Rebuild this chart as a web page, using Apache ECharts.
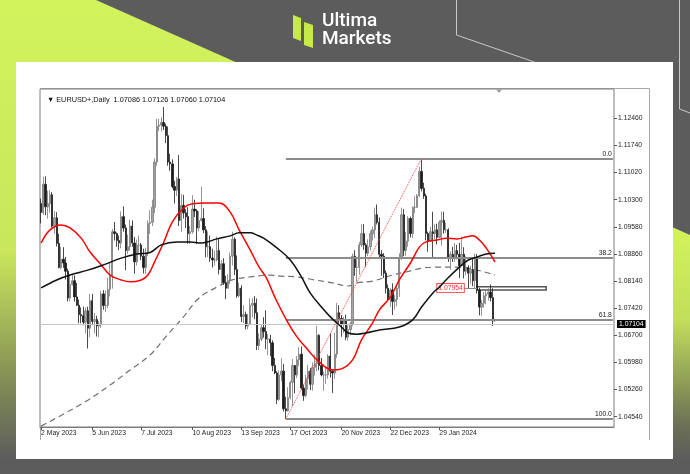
<!DOCTYPE html>
<html><head><meta charset="utf-8">
<script src="https://cdn.jsdelivr.net/npm/echarts@6/dist/echarts.min.js"></script>
<style>html,body{margin:0;padding:0;background:#5c5c5c}#c{width:690px;height:474px}</style>
</head><body><div id="c"></div>
<script>
// ---- data ----
const dates = [
'2023-05-02','2023-05-03','2023-05-04','2023-05-05','2023-05-08','2023-05-09','2023-05-10','2023-05-11','2023-05-12','2023-05-15','2023-05-16','2023-05-17','2023-05-18','2023-05-19','2023-05-22','2023-05-23','2023-05-24','2023-05-25','2023-05-26','2023-05-29','2023-05-30','2023-05-31',
'2023-06-01','2023-06-02','2023-06-05','2023-06-06','2023-06-07','2023-06-08','2023-06-09','2023-06-12','2023-06-13','2023-06-14','2023-06-15','2023-06-16','2023-06-19','2023-06-20','2023-06-21','2023-06-22','2023-06-23','2023-06-26','2023-06-27','2023-06-28','2023-06-29','2023-06-30',
'2023-07-03','2023-07-04','2023-07-05','2023-07-06','2023-07-07','2023-07-10','2023-07-11','2023-07-12','2023-07-13','2023-07-14','2023-07-17','2023-07-18','2023-07-19','2023-07-20','2023-07-21','2023-07-24','2023-07-25','2023-07-26','2023-07-27','2023-07-28','2023-07-31',
'2023-08-01','2023-08-02','2023-08-03','2023-08-04','2023-08-07','2023-08-08','2023-08-09','2023-08-10','2023-08-11','2023-08-14','2023-08-15','2023-08-16','2023-08-17','2023-08-18','2023-08-21','2023-08-22','2023-08-23','2023-08-24','2023-08-25','2023-08-28','2023-08-29','2023-08-30','2023-08-31',
'2023-09-01','2023-09-04','2023-09-05','2023-09-06','2023-09-07','2023-09-08','2023-09-11','2023-09-12','2023-09-13','2023-09-14','2023-09-15','2023-09-18','2023-09-19','2023-09-20','2023-09-21','2023-09-22','2023-09-25','2023-09-26','2023-09-27','2023-09-28','2023-09-29',
'2023-10-02','2023-10-03','2023-10-04','2023-10-05','2023-10-06','2023-10-09','2023-10-10','2023-10-11','2023-10-12','2023-10-13','2023-10-16','2023-10-17','2023-10-18','2023-10-19','2023-10-20','2023-10-23','2023-10-24','2023-10-25','2023-10-26','2023-10-27','2023-10-30','2023-10-31',
'2023-11-01','2023-11-02','2023-11-03','2023-11-06','2023-11-07','2023-11-08','2023-11-09','2023-11-10','2023-11-13','2023-11-14','2023-11-15','2023-11-16','2023-11-17','2023-11-20','2023-11-21','2023-11-22','2023-11-23','2023-11-24','2023-11-27','2023-11-28','2023-11-29','2023-11-30',
'2023-12-01','2023-12-04','2023-12-05','2023-12-06','2023-12-07','2023-12-08','2023-12-11','2023-12-12','2023-12-13','2023-12-14','2023-12-15','2023-12-18','2023-12-19','2023-12-20','2023-12-21','2023-12-22','2023-12-26','2023-12-27','2023-12-28','2023-12-29',
'2024-01-02','2024-01-03','2024-01-04','2024-01-05','2024-01-08','2024-01-09','2024-01-10','2024-01-11','2024-01-12','2024-01-15','2024-01-16','2024-01-17','2024-01-18','2024-01-19','2024-01-22','2024-01-23','2024-01-24','2024-01-25','2024-01-26','2024-01-29','2024-01-30','2024-01-31',
'2024-02-01','2024-02-02','2024-02-05','2024-02-06','2024-02-07','2024-02-08','2024-02-09','2024-02-12','2024-02-13','2024-02-14'
];
// [open, close, low, high]
const ohlc = [
[1.1020,1.0996,1.0967,1.1033],[1.0996,1.1071,1.0990,1.1091],[1.1071,1.1011,1.0989,1.1092],[1.1011,1.1019,1.0980,1.1054],[1.1019,1.1043,1.0996,1.1055],[1.1043,1.0960,1.0956,1.1050],[1.0960,1.0982,1.0940,1.1000],[1.0982,1.0914,1.0906,1.0997],[1.0914,1.0850,1.0848,1.0939],[1.0850,1.0872,1.0845,1.0905],[1.0872,1.0862,1.0849,1.0904],[1.0862,1.0840,1.0818,1.0878],[1.0840,1.0769,1.0760,1.0847],[1.0769,1.0805,1.0760,1.0829],[1.0805,1.0815,1.0802,1.0830],[1.0815,1.0772,1.0760,1.0829],[1.0772,1.0750,1.0748,1.0809],[1.0750,1.0725,1.0702,1.0765],[1.0725,1.0722,1.0702,1.0744],[1.0722,1.0705,1.0697,1.0746],[1.0705,1.0735,1.0675,1.0744],[1.0735,1.0689,1.0635,1.0746],
[1.0689,1.0762,1.0665,1.0780],[1.0762,1.0707,1.0698,1.0780],[1.0707,1.0712,1.0675,1.0729],[1.0712,1.0695,1.0667,1.0722],[1.0695,1.0700,1.0665,1.0708],[1.0700,1.0780,1.0690,1.0788],[1.0780,1.0749,1.0738,1.0790],[1.0749,1.0750,1.0732,1.0789],[1.0750,1.0792,1.0742,1.0823],[1.0792,1.0830,1.0773,1.0865],[1.0830,1.0945,1.0794,1.0952],[1.0945,1.0940,1.0922,1.0971],[1.0940,1.0922,1.0905,1.0943],[1.0922,1.0915,1.0896,1.0935],[1.0915,1.0985,1.0901,1.0999],[1.0985,1.0955,1.0945,1.1012],[1.0955,1.0895,1.0843,1.0964],[1.0895,1.0905,1.0886,1.0937],[1.0905,1.0960,1.0895,1.0977],[1.0960,1.0915,1.0905,1.0975],[1.0915,1.0865,1.0834,1.0931],[1.0865,1.0910,1.0855,1.0924],
[1.0910,1.0910,1.0887,1.0935],[1.0910,1.0880,1.0870,1.0915],[1.0880,1.0850,1.0834,1.0900],[1.0850,1.0889,1.0833,1.0903],[1.0889,1.0967,1.0880,1.0975],[1.0967,1.0970,1.0939,1.1002],[1.0970,1.1010,1.0960,1.1030],[1.1010,1.1130,1.0994,1.1140],[1.1130,1.1225,1.1120,1.1245],[1.1225,1.1228,1.1212,1.1245],[1.1228,1.1235,1.1211,1.1249],[1.1235,1.1225,1.1215,1.1276],[1.1225,1.1200,1.1180,1.1232],[1.1200,1.1130,1.1120,1.1224],[1.1130,1.1125,1.1107,1.1152],[1.1125,1.1065,1.1060,1.1137],[1.1065,1.1055,1.1020,1.1080],[1.1055,1.1085,1.1040,1.1090],[1.1085,1.0975,1.0960,1.1149],[1.0975,1.1015,1.0944,1.1045],[1.1015,1.0995,1.0980,1.1043],
[1.0995,1.0985,1.0955,1.1005],[1.0985,1.0940,1.0913,1.1010],[1.0940,1.0945,1.0912,1.0960],[1.0945,1.1005,1.0940,1.1042],[1.1005,1.1000,1.0984,1.1030],[1.1000,1.0955,1.0912,1.1005],[1.0955,1.0975,1.0946,1.1000],[1.0975,1.0980,1.0972,1.1065],[1.0980,1.0950,1.0941,1.1007],[1.0950,1.0905,1.0877,1.0960],[1.0905,1.0905,1.0878,1.0946],[1.0905,1.0875,1.0865,1.0935],[1.0875,1.0870,1.0850,1.0900],[1.0870,1.0870,1.0855,1.0895],[1.0870,1.0895,1.0866,1.0932],[1.0895,1.0845,1.0832,1.0926],[1.0845,1.0860,1.0802,1.0870],[1.0860,1.0810,1.0804,1.0875],[1.0810,1.0795,1.0766,1.0828],[1.0795,1.0815,1.0795,1.0832],[1.0815,1.0880,1.0806,1.0890],[1.0880,1.0925,1.0855,1.0945],[1.0925,1.0845,1.0830,1.0930],
[1.0845,1.0775,1.0770,1.0882],[1.0775,1.0795,1.0770,1.0810],[1.0795,1.0720,1.0705,1.0803],[1.0720,1.0725,1.0703,1.0750],[1.0725,1.0695,1.0686,1.0733],[1.0695,1.0700,1.0686,1.0727],[1.0700,1.0750,1.0698,1.0768],[1.0750,1.0755,1.0718,1.0769],[1.0755,1.0730,1.0713,1.0774],[1.0730,1.0643,1.0631,1.0768],[1.0643,1.0660,1.0631,1.0675],[1.0660,1.0690,1.0655,1.0698],[1.0690,1.0680,1.0664,1.0718],[1.0680,1.0660,1.0633,1.0736],[1.0660,1.0660,1.0617,1.0673],[1.0660,1.0650,1.0615,1.0671],[1.0650,1.0590,1.0575,1.0657],[1.0590,1.0570,1.0567,1.0610],[1.0570,1.0500,1.0488,1.0575],[1.0500,1.0565,1.0496,1.0577],[1.0565,1.0575,1.0548,1.0609],
[1.0575,1.0475,1.0468,1.0594],[1.0475,1.0470,1.0448,1.0507],[1.0470,1.0505,1.0467,1.0532],[1.0505,1.0545,1.0500,1.0549],[1.0545,1.0590,1.0482,1.0607],[1.0590,1.0565,1.0516,1.0577],[1.0565,1.0605,1.0557,1.0615],[1.0605,1.0620,1.0588,1.0639],[1.0620,1.0530,1.0525,1.0640],[1.0530,1.0510,1.0496,1.0539],[1.0510,1.0555,1.0506,1.0566],[1.0555,1.0575,1.0526,1.0592],[1.0575,1.0540,1.0525,1.0583],[1.0540,1.0585,1.0523,1.0598],[1.0585,1.0595,1.0563,1.0619],[1.0595,1.0670,1.0575,1.0695],[1.0670,1.0590,1.0577,1.0673],[1.0590,1.0565,1.0561,1.0610],[1.0565,1.0565,1.0523,1.0574],[1.0565,1.0565,1.0541,1.0587],[1.0565,1.0615,1.0555,1.0620],[1.0615,1.0575,1.0558,1.0675],
[1.0575,1.0570,1.0517,1.0580],[1.0570,1.0620,1.0555,1.0677],[1.0620,1.0730,1.0610,1.0756],[1.0730,1.0715,1.0701,1.0750],[1.0715,1.0700,1.0666,1.0724],[1.0700,1.0710,1.0676,1.0719],[1.0710,1.0665,1.0657,1.0725],[1.0665,1.0685,1.0656,1.0697],[1.0685,1.0700,1.0670,1.0705],[1.0700,1.0880,1.0694,1.0887],[1.0880,1.0850,1.0828,1.0896],[1.0850,1.0850,1.0812,1.0872],[1.0850,1.0910,1.0831,1.0918],[1.0910,1.0940,1.0904,1.0964],[1.0940,1.0910,1.0897,1.0965],[1.0910,1.0888,1.0852,1.0915],[1.0888,1.0905,1.0880,1.0925],[1.0905,1.0940,1.0895,1.0948],[1.0940,1.0950,1.0922,1.0959],[1.0950,1.0990,1.0928,1.1009],[1.0990,1.0970,1.0964,1.1017],[1.0970,1.0885,1.0876,1.0983],
[1.0885,1.0880,1.0828,1.0896],[1.0880,1.0835,1.0822,1.0888],[1.0835,1.0795,1.0781,1.0842],[1.0795,1.0765,1.0762,1.0805],[1.0765,1.0790,1.0746,1.0795],[1.0790,1.0760,1.0724,1.0808],[1.0760,1.0765,1.0738,1.0777],[1.0765,1.0795,1.0747,1.0806],[1.0795,1.0875,1.0772,1.0888],[1.0875,1.0990,1.0870,1.1009],[1.0990,1.0895,1.0880,1.1005],[1.0895,1.0920,1.0881,1.0945],[1.0920,1.0980,1.0905,1.0986],[1.0980,1.0940,1.0930,1.0985],[1.0940,1.1010,1.0928,1.1012],[1.1010,1.1010,1.0994,1.1039],[1.1010,1.1040,1.1008,1.1045],[1.1040,1.1105,1.1038,1.1117],[1.1105,1.1060,1.1052,1.1140],[1.1060,1.1040,1.1032,1.1075],
[1.1040,1.0940,1.0922,1.1046],[1.0940,1.0920,1.0892,1.0945],[1.0920,1.0945,1.0921,1.0958],[1.0945,1.0940,1.0877,1.0998],[1.0940,1.0950,1.0925,1.0965],[1.0950,1.0930,1.0911,1.0966],[1.0930,1.0970,1.0928,1.0975],[1.0970,1.0975,1.0908,1.0999],[1.0975,1.0950,1.0940,1.0998],[1.0950,1.0950,1.0941,1.0969],[1.0950,1.0875,1.0865,1.0954],[1.0875,1.0885,1.0844,1.0893],[1.0885,1.0875,1.0865,1.0905],[1.0875,1.0895,1.0865,1.0915],[1.0895,1.0885,1.0872,1.0910],[1.0885,1.0855,1.0822,1.0916],[1.0855,1.0885,1.0853,1.0932],[1.0885,1.0840,1.0821,1.0904],[1.0840,1.0850,1.0829,1.0880],[1.0850,1.0835,1.0795,1.0856],[1.0835,1.0845,1.0807,1.0855],[1.0845,1.0815,1.0800,1.0874],
[1.0815,1.0875,1.0795,1.0887],[1.0875,1.0790,1.0781,1.0886],[1.0790,1.0745,1.0723,1.0796],[1.0745,1.0755,1.0722,1.0764],[1.0755,1.0775,1.0743,1.0785],[1.0775,1.0780,1.0752,1.0790],[1.0780,1.0785,1.0762,1.0795],[1.0785,1.0770,1.0760,1.0805],[1.0770,1.0708,1.0695,1.0795],[1.07086,1.07104,1.07060,1.07126]
];
// moving averages: [bar index, price]
const maRed = [[0,1.0915],[4,1.0950],[9,1.0963],[13,1.0955],[18,1.0928],[22,1.0891],[27,1.0857],[31,1.0830],[36,1.0817],[40,1.0812],[45,1.0817],[48,1.0830],[51,1.0865],[55,1.0915],[59,1.0971],[64,1.1008],[68,1.1019],[74,1.1021],[80,1.1021],[85,1.0997],[89,1.0950],[94,1.0896],[98,1.0851],[101,1.0825],[103,1.0800],[105,1.0772],[111,1.0703],[115,1.0666],[120,1.0631],[124,1.0605],[131,1.0578],[135,1.0581],[140,1.0605],[144,1.0658],[149,1.0703],[152,1.0737],[157,1.0772],[161,1.0817],[166,1.0862],[170,1.0904],[173,1.0918],[178,1.0923],[182,1.0928],[187,1.0926],[191,1.0931],[194,1.0934],[197,1.0923],[200,1.0902],[204,1.0865]];
const maBlack = [[0,1.0796],[7,1.0817],[13,1.0830],[21,1.0843],[28,1.0857],[36,1.0875],[43,1.0886],[49,1.0890],[54,1.0910],[61,1.0918],[67,1.0918],[72,1.0915],[79,1.0926],[85,1.0934],[89,1.0942],[94,1.0942],[97,1.0936],[100,1.0928],[106,1.0902],[112,1.0870],[117,1.0825],[121,1.0782],[126,1.0745],[130,1.0719],[135,1.0692],[138,1.0676],[142,1.0673],[146,1.0676],[152,1.0684],[161,1.0692],[167,1.0711],[171,1.0745],[176,1.0782],[179,1.0798],[182,1.0817],[188,1.0851],[192,1.0870],[196,1.0878],[200,1.0886],[204,1.0888]];
const maDashed = [[0,1.0429],[11,1.0464],[21,1.0498],[31,1.0538],[40,1.0578],[49,1.0618],[56,1.0666],[64,1.0719],[71,1.0769],[79,1.0798],[86,1.0817],[94,1.0825],[103,1.0830],[108,1.0827],[115,1.0825],[123,1.0817],[131,1.0809],[138,1.0801],[142,1.0809],[149,1.0814],[158,1.0830],[164,1.0838],[172,1.0849],[179,1.0851],[187,1.0851],[194,1.0846],[204,1.0830]];
// fibonacci retracement (from Oct 3 low bar to Dec 28 high bar)
const fibNames = ['0.0','38.2','61.8','100.0'];
const fibLevels = [1.1140, 1.0876, 1.0712, 1.0448];
const fibStart = 110, fibHigh = 171;
const lastPrice = 1.07104;
const boxLevel = 1.07954, boxTop = 1.0799, boxBottom = 1.0790, boxStart = 196, boxEnd = 227, boxLabelAt = 190;
const yTicks = [1.04540,1.05260,1.05980,1.06700,1.07420,1.08140,1.08860,1.09580,1.10300,1.11020,1.11740,1.12460];
const xTickIdx = [0,23,45,68,90,112,135,157,179];
const xTickText = ['2 May 2023','5 Jun 2023','7 Jul 2023','10 Aug 2023','13 Sep 2023','17 Oct 2023','20 Nov 2023','22 Dec 2023','29 Jan 2024'];
const titleText = '\u25BC EURUSD+,Daily  1.07086 1.07126 1.07060 1.07104';

// ---- chart ----
const totalSlots = 258; // MT4 leaves empty space right of the last bar
const categories = dates.slice();
for (let i = dates.length; i < totalSlots; i++) categories.push('s' + i);

const F = 'Liberation Sans, Arial, sans-serif';
const chart = echarts.init(document.getElementById('c'), null, {renderer: 'canvas'});
const lime = '#d2f35c', grayBg = '#5c5c5c';
const fibLines = fibLevels.map((v, i) => [
  {coord: [fibStart, v], name: fibNames[i]},
  {coord: [totalSlots - 1, v]}
]);

chart.setOption({
  animation: false,
  backgroundColor: grayBg,
  title: {text: titleText, left: 42, top: 91, textStyle: {fontSize: 7.3, fontWeight: 'normal', color: '#111', fontFamily: F}},
  graphic: [
    {type: 'polygon', z: -10, shape: {points: [[0,0],[96,0],[240,64],[16,64],[16,460],[0,460]]},
     style: {fill: new echarts.graphic.LinearGradient(0,0,0,1,[{offset:0,color:lime},{offset:0.55,color:'#c9e65c'},{offset:0.85,color:'#7d8756'},{offset:1,color:grayBg}])}},
    {type: 'polygon', z: -10, shape: {points: [[672,227],[690,235],[690,460],[672,460]]},
     style: {fill: new echarts.graphic.LinearGradient(0,0,0,1,[{offset:0,color:lime},{offset:0.4,color:'#c2de5b'},{offset:0.85,color:'#6b7055'},{offset:1,color:grayBg}])}},
    {type: 'polyline', z: -9, shape: {points: [[456.5,0],[456.5,35],[540,64]]}, style: {stroke: '#c8c8c8', lineWidth: 1, fill: null}},
    {type: 'polyline', z: -9, shape: {points: [[679.5,0],[679.5,109],[690,113]]}, style: {stroke: '#c8c8c8', lineWidth: 1, fill: null}},
    {type: 'rect', z: -8, shape: {x: 16, y: 62, width: 657, height: 397}, style: {fill: '#ffffff'}},
    {type: 'polyline', z: -7, shape: {points: [[40.5,440],[40.5,88.5],[649.5,88.5],[649.5,440]]}, style: {stroke: '#a8a8a8', lineWidth: 1, fill: null}},
    {type: 'polygon', z: 5, shape: {points: [[496,89.5],[502,89.5],[499,93]]}, style: {fill: '#a0a0a0'}},
    {type: 'polygon', z: 5, shape: {points: [[293,15],[301,18],[301,41],[293,38]]}, style: {fill: '#c8ea48'}},
    {type: 'polygon', z: 5, shape: {points: [[304,22],[313,25],[313,48],[304,45]]}, style: {fill: '#c8ea48'}},
    {type: 'text', z: 5, left: 322, top: 12, style: {text: 'Ultima', fill: '#ffffff', font: '500 19px Roboto, sans-serif'}},
    {type: 'text', z: 5, left: 322, top: 30, style: {text: 'Markets', fill: '#ffffff', font: '500 19px Roboto, sans-serif'}}
  ],
  grid: {left: 40, right: 76, top: 89, bottom: 47, show: true, borderColor: '#7c7c7c', borderWidth: 1, backgroundColor: '#ffffff'},
  xAxis: {
    type: 'category', data: categories, boundaryGap: true,
    axisLine: {show: true, lineStyle: {color: '#7c7c7c'}},
    axisTick: {show: true, alignWithLabel: true, length: 3, lineStyle: {color: '#555'}, interval: (i) => xTickIdx.indexOf(i) >= 0},
    axisLabel: {interval: (i) => xTickIdx.indexOf(i) >= 0, formatter: (v, i) => { const k = xTickIdx.indexOf(i); return k >= 0 ? xTickText[k] : ''; },
      align: 'left', margin: 3, fontSize: 6.8, color: '#222', fontFamily: F},
    splitLine: {show: false}
  },
  yAxis: {
    type: 'value', position: 'right', min: 1.04267, max: 1.13238, scale: true,
    axisLine: {show: false},
    axisTick: {show: true, length: 3, lineStyle: {color: '#555'}, customValues: yTicks},
    axisLabel: {customValues: yTicks, formatter: (v) => v.toFixed(5), margin: 4, fontSize: 6.8, color: '#222', fontFamily: F},
    splitLine: {show: false}
  },
  series: [
    {type: 'line', data: maDashed, smooth: 0.4, symbol: 'none', z: 3, lineStyle: {color: '#707070', width: 1.2, type: [6, 4]}},
    {type: 'candlestick', data: ohlc, barWidth: 1.8, z: 4,
     itemStyle: {color: '#a4a4a4', color0: '#1c1c1c', borderColor: '#7a7a7a', borderColor0: '#1c1c1c', borderWidth: 0.8},
     markLine: {silent: true, symbol: ['none','none'], animation: false, data: [
        {yAxis: lastPrice, lineStyle: {color: '#c8c8c8', width: 1, type: 'solid'},
         label: {show: true, position: 'end', distance: 3, formatter: lastPrice.toFixed(5), color: '#fff', backgroundColor: '#000', padding: [1, 2, 0, 2], fontSize: 6.8, fontFamily: F}},
        ...fibLines.map(l => [Object.assign({}, l[0], {lineStyle: {color: '#8c8c8c', width: 2, type: 'solid'},
            label: {show: true, position: 'insideEndTop', distance: 1, formatter: '{b}', color: '#222', fontSize: 6.8, fontFamily: F}}), l[1]]),
        [{coord: [fibStart, fibLevels[3]], lineStyle: {color: '#ff4040', width: 1, type: 'dotted'}, label: {show: false}}, {coord: [fibHigh, fibLevels[0]]}],
        [{coord: [boxLabelAt, boxLevel], lineStyle: {color: '#888', width: 1, type: 'solid'}, label: {show: false}}, {coord: [boxStart, boxLevel]}]
     ]},
     markArea: {silent: true, itemStyle: {color: '#ffffff', borderColor: '#555', borderWidth: 1.5},
       data: [[{coord: [boxStart, boxTop]}, {coord: [boxEnd, boxBottom]}]]},
     markPoint: {silent: true, symbol: 'rect', symbolSize: 0, data: [
       {coord: [boxLabelAt, boxLevel], label: {show: true, position: 'left', distance: 0, formatter: boxLevel.toFixed(5),
         color: '#ff3030', backgroundColor: '#fff', borderColor: '#ff5050', borderWidth: 1, padding: [1, 1, 0, 1], fontSize: 6.8, fontFamily: F}}
     ]}
    },
    {type: 'line', data: maRed, smooth: 0.4, symbol: 'none', z: 5, lineStyle: {color: '#ff0000', width: 1.5}},
    {type: 'line', data: maBlack, smooth: 0.4, symbol: 'none', z: 5, lineStyle: {color: '#111111', width: 1.5}}
  ]
});
</script>
</body></html>
